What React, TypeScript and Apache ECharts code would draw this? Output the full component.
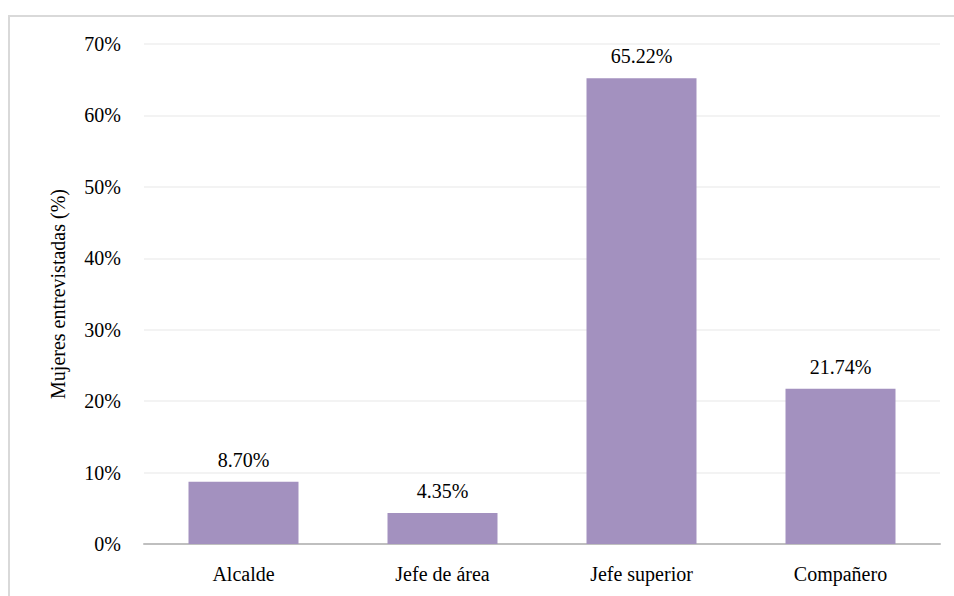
import React, { useEffect, useRef } from "react";
import * as echarts from "echarts";

const categories = ["Alcalde", "Jefe de área", "Jefe superior", "Compañero"];
const values = [8.7, 4.35, 65.22, 21.74];
const yTicks = [0, 10, 20, 30, 40, 50, 60, 70];
const yTitle = "Mujeres entrevistadas (%)";

export default function App() {
  const ref = useRef<HTMLDivElement>(null);
  useEffect(() => {
    document.body.style.margin = "0";
    const chart = echarts.init(ref.current!, null, { renderer: "svg" });
    const font = '"Times New Roman", "Liberation Serif", "DejaVu Serif", serif';
    chart.setOption({
      animation: false,
      textStyle: { fontFamily: font },
      graphic: [
        {
          type: "rect",
          shape: { x: 9, y: 16, width: 1000, height: 700 },
          style: { fill: "none", stroke: "#d9d9d9", lineWidth: 2 },
          silent: true,
        },
      ],
      grid: { left: 144, right: 14, top: 44, bottom: 52, containLabel: false },
      xAxis: {
        type: "category",
        data: categories,
        axisLine: { lineStyle: { color: "#bfbfbf", width: 2 } },
        axisTick: { show: false },
        axisLabel: { color: "#000", fontSize: 20, fontFamily: font, margin: 20 },
      },
      yAxis: {
        type: "value",
        min: yTicks[0],
        max: yTicks[yTicks.length - 1],
        interval: 10,
        name: yTitle,
        nameLocation: "middle",
        nameGap: 76,
        nameTextStyle: { color: "#000", fontSize: 20, fontFamily: font },
        axisLine: { show: false },
        axisTick: { show: false },
        splitLine: { lineStyle: { color: "#efefef", width: 1.5 } },
        axisLabel: { color: "#000", fontSize: 20, fontFamily: font, margin: 23, formatter: "{value}%" },
      },
      series: [
        {
          type: "bar",
          data: values,
          barWidth: 110,
          itemStyle: { color: "#a391bf" },
          label: {
            show: true,
            position: "top",
            distance: 12,
            color: "#000",
            fontSize: 20,
            fontFamily: font,
            formatter: (p: any) => p.value.toFixed(2) + "%",
          },
        },
      ],
    });
    return () => chart.dispose();
  }, []);
  return <div ref={ref} style={{ width: 954, height: 596 }} />;
}
